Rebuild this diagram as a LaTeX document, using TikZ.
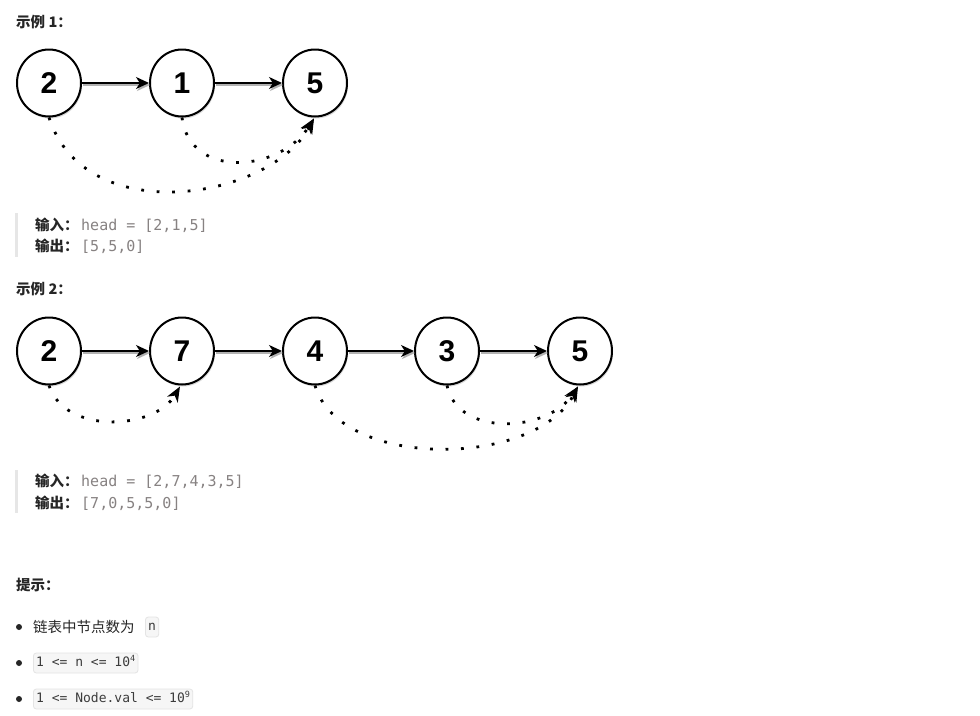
\documentclass[tikz,border=0pt]{standalone}
\usepackage{fontspec}
\setmainfont{Noto Sans CJK SC}
\newfontfamily\numfont{Liberation Sans}
\newfontfamily\codefont{DejaVu Sans Mono}
\usetikzlibrary{arrows.meta,shadows,shapes.geometric}

\definecolor{quotebar}{HTML}{E6E6E6}
\definecolor{quotecode}{HTML}{878282}
\definecolor{codebg}{HTML}{F6F6F6}
\definecolor{codeline}{HTML}{E4E4E4}
\definecolor{codetext}{HTML}{3C3C3C}
\definecolor{bodytext}{HTML}{262626}

\newcommand{\supnum}[1]{\raisebox{5pt}{\fontsize{8.5}{9}\selectfont #1}}

\begin{document}
\begin{tikzpicture}[x=1pt,y=-1pt,
  listnode/.style={ellipse, draw, line width=2pt, minimum width=64pt, minimum height=67pt,
    inner sep=0pt, fill=white, font=\numfont\bfseries\fontsize{30}{30}\selectfont,
    drop shadow={opacity=0.3, shadow xshift=1pt, shadow yshift=-2pt}},
  nextlink/.style={line width=2pt, -{Stealth[length=13pt,width=12pt,inset=4pt]}},
  linkshadow/.style={nextlink, draw=black!30, fill=black!30},
  jumplink/.style={line width=2.8pt, dash pattern=on 2.8pt off 12.7pt,
    -{Stealth[length=15pt,width=12pt,inset=4.5pt]}},
  heading/.style={anchor=base west, inner sep=0pt, text=bodytext,
    font=\bfseries\fontsize{14.5}{17}\selectfont},
  qlabel/.style={heading},
  qcode/.style={anchor=base west, inner sep=0pt, text=quotecode,
    font=\codefont\fontsize{15}{17}\selectfont},
  bodyline/.style={anchor=base west, inner sep=0pt, text=bodytext,
    font=\fontsize{14.5}{17}\selectfont},
  codebox/.style={anchor=west, draw=codeline, fill=codebg, rounded corners=3pt,
    line width=0.8pt, inner xsep=2.8pt, inner ysep=0pt, minimum height=20pt,
    text height=10pt, text depth=3pt, text=codetext,
    font=\codefont\fontsize{13}{15}\selectfont},
  bullet/.style={fill=bodytext}
]
\useasboundingbox (0,0) rectangle (980,715);
\fill[white] (0,0) rectangle (980,715);

% ---------- Example 1 ----------
\node[heading] (h1) at (16,27) {示例 1：};

\node[listnode] (a1) at (49,83) {2};
\node[listnode] (b1) at (182,83) {1};
\node[listnode] (c1) at (315,83) {5};

\foreach \u/\v in {a1/b1, b1/c1} {
  \draw[linkshadow] ([shift={(1,2)}]\u.east) -- ([shift={(1,2)}]\v.west);
  \draw[nextlink] (\u.east) -- (\v.west);
}

\draw[jumplink] (a1.south) .. controls (85,230) and (270,200) .. ([shift={(-1,1)}]c1.south);
\draw[jumplink] (b1.south) .. controls (190,180) and (280,172) .. ([shift={(-1,1)}]c1.south);

\fill[quotebar] (15,213) rectangle (18,257);
\node[qlabel] (in1) at (35,230) {输入：};
\node[qcode] (in1v) at (81,230) {head = [2,1,5]};
\node[qlabel] (out1) at (35,251) {输出：};
\node[qcode] (out1v) at (81,251) {[5,5,0]};

% ---------- Example 2 ----------
\node[heading] (h2) at (16,294) {示例 2：};

\node[listnode] (a2) at (49,351) {2};
\node[listnode] (b2) at (182,351) {7};
\node[listnode] (c2) at (315,351) {4};
\node[listnode] (d2) at (447,351) {3};
\node[listnode] (e2) at (580,351) {5};

\foreach \u/\v in {a2/b2, b2/c2, c2/d2, d2/e2} {
  \draw[linkshadow] ([shift={(1,2)}]\u.east) -- ([shift={(1,2)}]\v.west);
  \draw[nextlink] (\u.east) -- (\v.west);
}

\draw[jumplink] (a2.south) .. controls (65,435) and (155,430) .. ([shift={(-2,1)}]b2.south);
\draw[jumplink] (c2.south) .. controls (340,470) and (535,468) .. ([shift={(-2,1)}]e2.south);
\draw[jumplink] (d2.south) .. controls (458,438) and (548,432) .. ([shift={(-2,1)}]e2.south);

\fill[quotebar] (15,470) rectangle (18,513);
\node[qlabel] (in2) at (35,486) {输入：};
\node[qcode] (in2v) at (81,486) {head = [2,7,4,3,5]};
\node[qlabel] (out2) at (35,508) {输出：};
\node[qcode] (out2v) at (81,508) {[7,0,5,5,0]};

% ---------- Hints ----------
\node[heading] (h3) at (16,590) {提示：};

\fill[bullet] (19,627) circle (3);
\node[bodyline] (t1) at (33,632) {链表中节点数为};
\node[codebox] (t1c) at (145,627) {n};

\fill[bullet] (19,663) circle (3);
\node[codebox] (t2) at (33,663) {1 <= n <= 10\supnum{4}};

\fill[bullet] (19,699) circle (3);
\node[codebox] (t3) at (33,699) {1 <= Node.val <= 10\supnum{9}};
\end{tikzpicture}
\end{document}
